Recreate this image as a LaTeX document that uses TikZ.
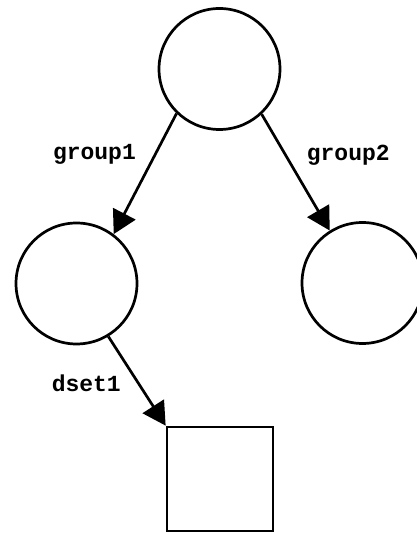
\documentclass[tikz,border=0pt]{standalone}
\usepackage{fontspec}
\setmonofont{Liberation Mono}
\usepackage{tikz}
\usetikzlibrary{arrows.meta}

\begin{document}
\begin{tikzpicture}[x=1pt,y=1pt,
  grp/.style={draw,circle,line width=2.7pt,minimum size=121pt,inner sep=0pt},
  dset/.style={draw,rectangle,line width=2.7pt,minimum width=106pt,minimum height=104pt,inner sep=0pt},
  lbl/.style={font=\fontsize{23}{27}\selectfont\ttfamily\bfseries,inner sep=0pt},
  ->/.style={line width=2.7pt,-{Triangle[length=23pt,width=25pt]}}]
\useasboundingbox (0,0) rectangle (416,533);
\node[grp] (T) at (219.5,464)
{};
\node[grp] (BL) at (76.5,249.5)
{};
\node[grp] (BR) at (362.5,250)
{};
\node[dset] (D) at (220,54)
{};

\draw[->] (T.226) to node[lbl,left=18pt,pos=0.34] (G1) {group1} (BL.53);
\draw[->] (T.-47) to node[lbl,right=20pt,pos=0.35] (G2) {group2} (BR.122);
\draw[->] (BL.-59) to node[lbl,left=16pt,pos=0.52] (S1) {dset1} (D.north west);
\end{tikzpicture}
\end{document}
